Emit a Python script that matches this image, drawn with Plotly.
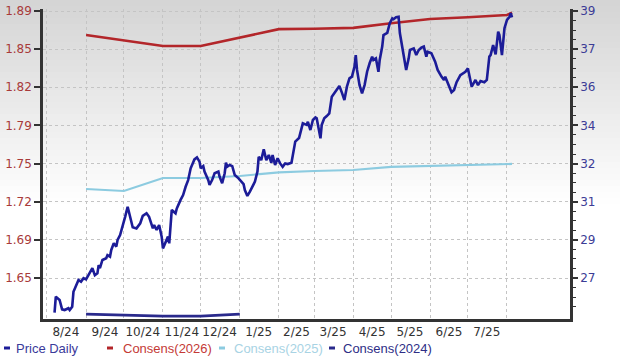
import plotly.graph_objects as go
from datetime import date, timedelta

# ---------------- data ----------------
price_dates = [
    "2024-08-07", "2024-08-08", "2024-08-11", "2024-08-13", "2024-08-15", "2024-08-18", "2024-08-19",
    "2024-08-21", "2024-08-22", "2024-08-24", "2024-08-26", "2024-08-28", "2024-08-30", "2024-09-01",
    "2024-09-04", "2024-09-06", "2024-09-08", "2024-09-10", "2024-09-11", "2024-09-12", "2024-09-14",
    "2024-09-17", "2024-09-18", "2024-09-20", "2024-09-21", "2024-09-23", "2024-09-25", "2024-09-26",
    "2024-09-28", "2024-09-30", "2024-10-02", "2024-10-04", "2024-10-06", "2024-10-08", "2024-10-11",
    "2024-10-14", "2024-10-16", "2024-10-19", "2024-10-21", "2024-10-24", "2024-10-25", "2024-10-27",
    "2024-10-29", "2024-10-31", "2024-11-01", "2024-11-03", "2024-11-05", "2024-11-06", "2024-11-08",
    "2024-11-11", "2024-11-12", "2024-11-15", "2024-11-17", "2024-11-19", "2024-11-21", "2024-11-23",
    "2024-11-26", "2024-11-28", "2024-11-30", "2024-12-01", "2024-12-03", "2024-12-04", "2024-12-07",
    "2024-12-08", "2024-12-10", "2024-12-12", "2024-12-15", "2024-12-16", "2024-12-18", "2024-12-20",
    "2024-12-21", "2024-12-22", "2024-12-24", "2024-12-26", "2024-12-28", "2024-12-31", "2025-01-02",
    "2025-01-04", "2025-01-05", "2025-01-07", "2025-01-09", "2025-01-11", "2025-01-13", "2025-01-15",
    "2025-01-16", "2025-01-18", "2025-01-20", "2025-01-22", "2025-01-24", "2025-01-26", "2025-01-27",
    "2025-01-29", "2025-01-31", "2025-02-02", "2025-02-04", "2025-02-06", "2025-02-08", "2025-02-11",
    "2025-02-12", "2025-02-14", "2025-02-17", "2025-02-20", "2025-02-23", "2025-02-24", "2025-02-26",
    "2025-02-28", "2025-03-02", "2025-03-03", "2025-03-05", "2025-03-06", "2025-03-07", "2025-03-09",
    "2025-03-11", "2025-03-13", "2025-03-15", "2025-03-17", "2025-03-19", "2025-03-21", "2025-03-23",
    "2025-03-25", "2025-03-27", "2025-03-29", "2025-03-31", "2025-04-02", "2025-04-03", "2025-04-04",
    "2025-04-06", "2025-04-08", "2025-04-10", "2025-04-12", "2025-04-14", "2025-04-16", "2025-04-17",
    "2025-04-19", "2025-04-21", "2025-04-22", "2025-04-24", "2025-04-25", "2025-04-28", "2025-04-30",
    "2025-05-02", "2025-05-03", "2025-05-05", "2025-05-07", "2025-05-08", "2025-05-11", "2025-05-13",
    "2025-05-15", "2025-05-16", "2025-05-19", "2025-05-21", "2025-05-23", "2025-05-25", "2025-05-27",
    "2025-05-29", "2025-05-30", "2025-06-02", "2025-06-05", "2025-06-07", "2025-06-10", "2025-06-12",
    "2025-06-13", "2025-06-15", "2025-06-18", "2025-06-20", "2025-06-22", "2025-06-25", "2025-06-27",
    "2025-06-29", "2025-07-01", "2025-07-03", "2025-07-04", "2025-07-07", "2025-07-09", "2025-07-11",
    "2025-07-14", "2025-07-16", "2025-07-18", "2025-07-19", "2025-07-21", "2025-07-23", "2025-07-25",
    "2025-07-26", "2025-07-28", "2025-07-30", "2025-08-01", "2025-08-03", "2025-08-04", "2025-08-05",
]
price_values = [
    25.44, 26.16, 26.01, 25.59, 25.56, 25.64, 25.56,
    25.71, 26.38, 26.61, 26.91, 26.83, 26.99, 26.94,
    27.28, 27.44, 27.13, 27.21, 27.58, 27.44, 27.81,
    27.89, 28.03, 27.96, 28.26, 28.56, 28.41, 28.71,
    28.93, 29.31, 29.75, 30.20, 29.75, 29.28, 29.23,
    29.46, 29.79, 29.91, 29.75, 29.23, 29.38, 29.16,
    29.38, 28.86, 28.33, 28.63, 28.86, 28.56, 30.06,
    29.91, 30.13, 30.51, 30.73, 31.10, 31.40, 31.93,
    32.33, 32.42, 32.23, 31.93, 32.03, 31.78, 31.40,
    31.18, 31.40, 31.71, 31.78, 31.55, 31.26, 31.71,
    32.18, 32.00, 32.08, 32.03, 31.63, 31.48, 31.33,
    31.22, 30.95, 30.69, 30.88, 31.10, 31.33, 31.78,
    32.45, 32.30, 32.78, 32.30, 32.53, 32.18, 32.53,
    32.08, 32.38, 32.15, 32.00, 32.15, 32.12, 32.18,
    32.53, 33.13, 33.29, 33.95, 33.88, 34.02, 33.65,
    34.10, 34.22, 34.18, 33.58, 33.28, 33.88, 34.18,
    34.28, 34.40, 35.15, 35.30, 35.45, 35.63, 35.33,
    35.00, 35.60, 35.97, 36.05, 36.50, 37.02, 36.35,
    35.67, 35.30, 35.67, 36.27, 36.65, 36.95, 36.80,
    36.87, 36.27, 36.80, 37.40, 37.92, 38.02, 38.45,
    38.67, 38.63, 38.72, 38.74, 38.01, 36.95, 36.35,
    36.87, 37.25, 37.32, 37.02, 37.25, 37.35, 37.40,
    36.95, 37.17, 37.10, 36.72, 36.35, 36.05, 35.90,
    36.05, 35.75, 35.35, 35.45, 35.80, 36.12, 36.20,
    36.27, 36.42, 35.82, 35.60, 35.90, 35.67, 35.85,
    35.80, 35.90, 36.95, 37.02, 37.47, 37.05, 38.07,
    37.92, 37.02, 38.22, 38.60, 38.74, 38.90, 38.71,
]

consens_dates = [
    "2024-09-01", "2024-10-01", "2024-11-01", "2024-12-01", "2025-01-01", "2025-02-01", "2025-03-01",
    "2025-04-01", "2025-05-01", "2025-06-01", "2025-07-01", "2025-08-01", "2025-08-05",
]
consens_2026 = [1.8685, 1.8638, 1.8586, 1.8586, 1.8659, 1.8737, 1.8740,
                1.8748, 1.8790, 1.8828, 1.8844, 1.8864, 1.8885]
consens_2025 = [1.7300, 1.7282, 1.7399, 1.7399, 1.7417, 1.7449, 1.7462,
                1.7471, 1.7498, 1.7507, 1.7516, 1.7525, 1.7525]
consens_2024_dates = ["2024-09-01", "2024-10-01", "2024-11-01", "2024-12-01", "2025-01-01"]
consens_2024 = [1.6176, 1.6167, 1.6158, 1.6158, 1.6176]

month_labels = ["8/24", "9/24", "10/24", "11/24", "12/24", "1/25",
                "2/25", "3/25", "4/25", "5/25", "6/25", "7/25"]
left_tick_labels = ["1.65", "1.69", "1.72", "1.75", "1.79", "1.82", "1.85", "1.89"]
right_tick_labels = ["27", "29", "31", "32", "34", "36", "37", "39"]

# ---------------- styling / layout ----------------
W, H = 620, 357
ML, MR, MT, MB = 43, 50, 9, 38
PW, PH = W - ML - MR, H - MT - MB

def px_x(px):
    return (px - ML) / PW

def px_y(py):
    return (H - MB - py) / PH

RED = "#b3262a"
NAVY = "#1c1c98"
LBLUE = "#8ccbe0"
NAVY24 = "#2a2a8c"
GRID = "#c4c4c4"

starts = []
y, m = 2024, 8
for _ in range(14):
    starts.append(date(y, m, 1))
    m += 1
    if m > 12:
        m, y = 1, y + 1
grid_vals = [d.isoformat() for d in starts[:13]]
label_vals = []
for i in range(len(month_labels)):
    a, b = starts[i], starts[i + 1]
    mid = a + (b - a) / 2
    label_vals.append(mid.isoformat())

left_lo, left_hi = 1.65, 1.89
left_ticks = [left_lo + k * (left_hi - left_lo) / 7 for k in range(8)]
right_lo, right_hi = 27.0, 39.0
right_ticks = [right_lo + k * (right_hi - right_lo) / 7 for k in range(8)]
right_minor = [right_lo + j * (right_hi - right_lo) / 28 for j in range(-4, 29) if j % 4 != 0]

per_px_l = (left_hi - left_lo) / 267.0
per_px_r = (right_hi - right_lo) / 267.0
left_range = [left_lo - 41 * per_px_l, left_hi + 2 * per_px_l]
right_range = [right_lo - 41 * per_px_r, right_hi + 2 * per_px_r]

fig = go.Figure()
fig.add_trace(go.Scatter(x=consens_dates, y=consens_2025, mode="lines",
                         line=dict(color=LBLUE, width=2.2), name="Consens(2025)",
                         yaxis="y", hoverinfo="skip"))
fig.add_trace(go.Scatter(x=consens_dates, y=consens_2026, mode="lines",
                         line=dict(color=RED, width=2.6), name="Consens(2026)",
                         yaxis="y", hoverinfo="skip"))
fig.add_trace(go.Scatter(x=consens_2024_dates, y=consens_2024, mode="lines",
                         line=dict(color=NAVY24, width=2.8), name="Consens(2024)",
                         yaxis="y", hoverinfo="skip"))
fig.add_trace(go.Scatter(x=price_dates, y=price_values, mode="lines",
                         line=dict(color=NAVY, width=2.6), name="Price Daily",
                         yaxis="y2", hoverinfo="skip"))

# background vertical gradient (grey at top -> white)
shapes = []
band = 6
for Y0 in range(0, 210, band):
    t = min(1.0, (Y0 + band / 2) / 205.0)
    g = int(round(212 + (255 - 212) * t))
    shapes.append(dict(type="rect", xref="paper", yref="paper",
                       x0=px_x(0), x1=px_x(W), y0=px_y(Y0 + band + 0.5), y1=px_y(Y0),
                       fillcolor=f"rgb({g},{g},{g})", line=dict(width=0), layer="below"))

# legend entries (dash + text)
legend_items = [
    ("Price Daily", NAVY, "#3a3a9a", 4, 14),
    ("Consens(2026)", RED, "#c43a36", 107, 121),
    ("Consens(2025)", LBLUE, "#a8d3e4", 219, 232),
    ("Consens(2024)", NAVY24, "#2e2e86", 329, 341),
]
LEG_Y = 348
annotations = []
for text, lc, tc, dx, tx in legend_items:
    shapes.append(dict(type="line", xref="paper", yref="paper",
                       x0=px_x(dx), x1=px_x(dx + 6), y0=px_y(LEG_Y), y1=px_y(LEG_Y),
                       line=dict(color=lc, width=3)))
    annotations.append(dict(text=text, xref="paper", yref="paper",
                            x=px_x(tx), y=px_y(LEG_Y), xanchor="left", yanchor="middle",
                            showarrow=False,
                            font=dict(family="Liberation Sans, Arial, sans-serif", size=13, color=tc)))

tick_font = "DejaVu Sans, Verdana, sans-serif"
fig.update_layout(
    width=W, height=H,
    margin=dict(l=ML, r=MR, t=MT, b=MB, pad=0, autoexpand=False),
    paper_bgcolor="white",
    plot_bgcolor="rgba(0,0,0,0)",
    showlegend=False,
    shapes=shapes,
    annotations=annotations,
    xaxis=dict(
        type="date",
        range=["2024-07-28 20:00", "2025-09-20"],
        tickmode="array", tickvals=label_vals, ticktext=month_labels,
        ticks="", showgrid=False, zeroline=False,
        showline=True, linecolor="#333333", linewidth=2.5,
        tickfont=dict(family=tick_font, size=12, color="#333333"),
        minor=dict(tickmode="array", tickvals=grid_vals, showgrid=True,
                   gridcolor=GRID, griddash="3px,3px", gridwidth=1, ticks=""),
        fixedrange=True, automargin=False,
    ),
    yaxis=dict(
        range=left_range,
        tickmode="array", tickvals=left_ticks, ticktext=left_tick_labels,
        ticks="outside", ticklen=6, tickwidth=1.5, tickcolor="#333333",
        showgrid=True, gridcolor=GRID, griddash="3px,3px", gridwidth=1,
        zeroline=False, showline=True, linecolor="#333333", linewidth=2.5,
        tickfont=dict(family=tick_font, size=12, color="#a83a3a"),
        fixedrange=True, automargin=False,
    ),
    yaxis2=dict(
        range=right_range, overlaying="y", side="right",
        tickmode="array", tickvals=right_ticks, ticktext=right_tick_labels,
        ticks="outside", ticklen=5, tickwidth=1.5, tickcolor="#333333",
        minor=dict(tickmode="array", tickvals=right_minor, ticks="outside",
                   ticklen=3, tickwidth=1, tickcolor="#333333", showgrid=False),
        showgrid=False, zeroline=False,
        showline=True, linecolor="#333333", linewidth=2.5,
        tickfont=dict(family=tick_font, size=12, color="#3c3c96"),
        fixedrange=True, automargin=False,
    ),
)

fig.write_html("out.html", config={"displayModeBar": False},
               post_script="document.body.style.margin='0px';document.body.style.overflow='hidden';")
